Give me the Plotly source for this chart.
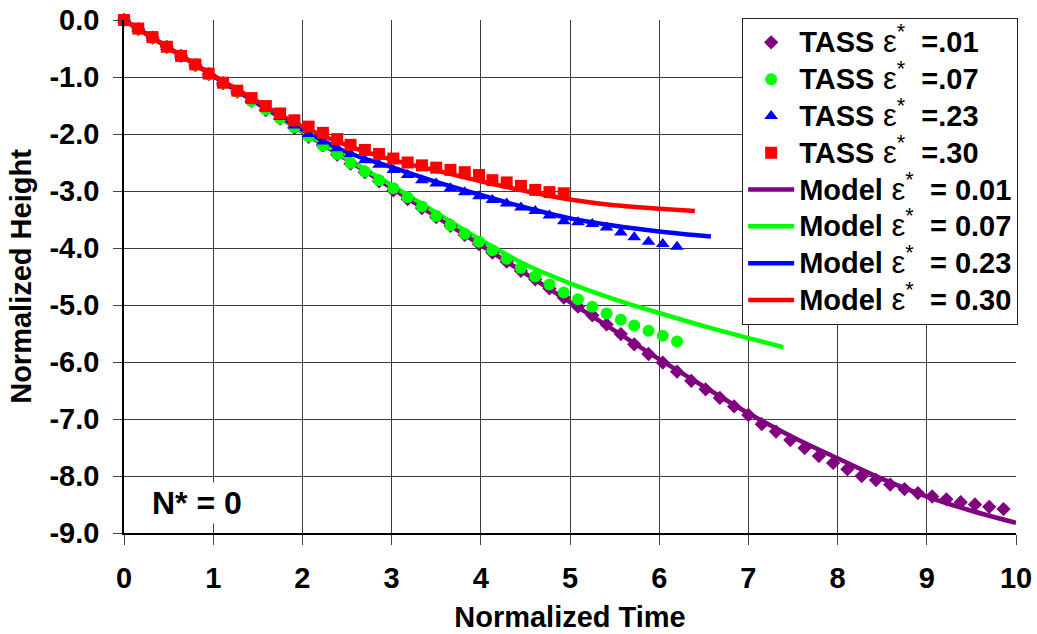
import plotly.graph_objects as go

# Sample times of the TASS simulations (shared by all four runs)
tass_time = [0.00, 0.16, 0.32, 0.48, 0.64, 0.80, 0.95, 1.11, 1.27, 1.43,
             1.59, 1.75, 1.91, 2.07, 2.23, 2.39, 2.54, 2.70, 2.86, 3.02,
             3.18, 3.34, 3.50, 3.66, 3.82, 3.98, 4.13, 4.29, 4.45, 4.61,
             4.77, 4.93, 5.09, 5.25, 5.41, 5.57, 5.72, 5.88, 6.04, 6.20,
             6.36, 6.52, 6.68, 6.84, 7.00, 7.15, 7.31, 7.47, 7.63, 7.79,
             7.95, 8.11, 8.27, 8.43, 8.59, 8.75, 8.90, 9.06, 9.22, 9.38,
             9.54, 9.70, 9.86]

tass_01 = [0.00, -0.16, -0.31, -0.47, -0.63, -0.79, -0.95, -1.11, -1.26, -1.42,
           -1.58, -1.73, -1.89, -2.05, -2.20, -2.36, -2.52, -2.67, -2.83, -2.99,
           -3.14, -3.30, -3.46, -3.61, -3.77, -3.93, -4.08, -4.24, -4.40, -4.55,
           -4.71, -4.87, -5.03, -5.18, -5.34, -5.51, -5.69, -5.86, -6.01, -6.17,
           -6.33, -6.48, -6.63, -6.78, -6.93, -7.09, -7.22, -7.37, -7.51, -7.65,
           -7.77, -7.88, -8.00, -8.07, -8.15, -8.23, -8.30, -8.36, -8.41, -8.46,
           -8.50, -8.54, -8.58]

tass_07 = [0.00, -0.16, -0.31, -0.47, -0.63, -0.79, -0.95, -1.11, -1.26, -1.42,
           -1.57, -1.73, -1.88, -2.04, -2.20, -2.35, -2.51, -2.66, -2.81, -2.95,
           -3.11, -3.27, -3.44, -3.60, -3.75, -3.89, -4.04, -4.19, -4.35, -4.50,
           -4.64, -4.78, -4.90, -5.03, -5.15, -5.26, -5.36, -5.45, -5.54, -5.64]

tass_23 = [0.00, -0.16, -0.31, -0.47, -0.63, -0.79, -0.95, -1.10, -1.25, -1.40,
           -1.55, -1.70, -1.85, -2.00, -2.13, -2.25, -2.35, -2.46, -2.54, -2.63,
           -2.72, -2.81, -2.87, -2.95, -3.02, -3.09, -3.16, -3.22, -3.29, -3.35,
           -3.43, -3.53, -3.55, -3.58, -3.64, -3.73, -3.81, -3.89, -3.93, -3.98]

tass_30 = [0.00, -0.15, -0.30, -0.47, -0.63, -0.78, -0.94, -1.10, -1.24, -1.37,
           -1.51, -1.64, -1.76, -1.87, -1.98, -2.09, -2.19, -2.28, -2.35, -2.43,
           -2.50, -2.55, -2.59, -2.63, -2.67, -2.72, -2.81, -2.85, -2.91, -2.98,
           -3.02, -3.04]

# Model predictions
model_01_t = [0, 0.5, 1, 1.5, 2, 2.5, 3, 3.5, 4, 4.5, 5, 5.5, 6, 6.5, 7, 7.5,
              8, 8.5, 9, 9.5, 10]
model_01_h = [0.00, -0.49, -0.98, -1.47, -1.96, -2.45, -2.95, -3.45, -3.95,
              -4.45, -4.95, -5.45, -5.95, -6.43, -6.90, -7.32, -7.69, -8.05,
              -8.36, -8.61, -8.82]

model_07_t = [0, 0.5, 1, 1.5, 2, 2.5, 3, 3.5, 4, 4.5, 5, 5.5, 6, 6.5, 7, 7.39]
model_07_h = [0.00, -0.49, -0.98, -1.47, -1.95, -2.43, -2.90, -3.38, -3.86,
              -4.29, -4.62, -4.90, -5.14, -5.37, -5.58, -5.74]

model_23_t = [0, 0.5, 1, 1.5, 2, 2.5, 3, 3.5, 4, 4.5, 5, 5.5, 6, 6.58]
model_23_h = [0.00, -0.49, -0.98, -1.46, -1.92, -2.32, -2.58, -2.84, -3.07,
              -3.29, -3.48, -3.61, -3.71, -3.80]

model_30_t = [0, 0.5, 1, 1.5, 2, 2.5, 3, 3.5, 4, 4.5, 5, 5.5, 6, 6.4]
model_30_h = [0.00, -0.49, -0.97, -1.43, -1.87, -2.20, -2.45, -2.64, -2.83,
              -3.00, -3.15, -3.25, -3.31, -3.35]

x_ticks = [0, 1, 2, 3, 4, 5, 6, 7, 8, 9, 10]
y_ticks = [0, -1, -2, -3, -4, -5, -6, -7, -8, -9]
y_tick_text = ["0.0", "-1.0", "-2.0", "-3.0", "-4.0", "-5.0", "-6.0", "-7.0",
               "-8.0", "-9.0"]

PURPLE, GREEN, BLUE, RED = "#800080", "#00FF00", "#0000FF", "#FF0000"


def legend_label(prefix, value):
    # bold label with a regular-weight epsilon-star in the middle
    eps = ("<span style='font-weight:normal;font-size:31px'> ε"
           "<sup>*</sup></span>")
    return f"<span style='font-size:29px'>{prefix}{eps}&nbsp; {value}</span>"


fig = go.Figure()

# model curves underneath the markers
models = [
    (model_01_t, model_01_h, PURPLE, "= 0.01", 5),
    (model_07_t, model_07_h, GREEN, "= 0.07", 6),
    (model_23_t, model_23_h, BLUE, "= 0.23", 7),
    (model_30_t, model_30_h, RED, "= 0.30", 8),
]
for t, h, col, lab, rank in models:
    fig.add_trace(go.Scatter(
        x=t, y=h, mode="lines", line=dict(color=col, width=4.5, shape="spline"),
        name=legend_label("Model", lab), legendrank=rank, cliponaxis=False,
    ))

tass = [
    (tass_time[:len(tass_01)], tass_01, PURPLE, "diamond", 11, "=.01", 1),
    (tass_time[:len(tass_07)], tass_07, GREEN, "circle", 12, "=.07", 2),
    (tass_time[:len(tass_23)], tass_23, BLUE, "triangle-up", 12, "=.23", 3),
    (tass_time[:len(tass_30)], tass_30, RED, "square", 12, "=.30", 4),
]
for t, h, col, sym, size, lab, rank in tass:
    fig.add_trace(go.Scatter(
        x=t, y=h, mode="markers",
        marker=dict(color=col, symbol=sym, size=size, line=dict(width=0)),
        name=legend_label("TASS", lab), legendrank=rank, cliponaxis=False,
    ))

font_family = "Liberation Sans, Arial, sans-serif"

fig.update_layout(
    width=1037, height=634,
    margin=dict(l=124, r=21, t=20, b=101, autoexpand=False),
    paper_bgcolor="white", plot_bgcolor="white",
    font=dict(family=font_family, color="black", size=29, weight="bold"),
    legend=dict(
        x=0.693, y=1.004, xanchor="left", yanchor="top",
        bgcolor="white", bordercolor="#222222", borderwidth=1,
        font=dict(size=26, family=font_family, weight="bold"),
        tracegroupgap=0, itemwidth=46, maxheight=1.0,
    ),
    showlegend=True,
)

fig.update_xaxes(
    range=[0, 10], tickvals=x_ticks, ticks="outside", ticklen=10,
    tickcolor="#444444", tickwidth=1, automargin=False, ticklabelstandoff=8,
    showgrid=True, gridcolor="#3c3c3c", gridwidth=1,
    showline=True, linecolor="black", linewidth=1.5,
    zeroline=False, tickfont=dict(size=29, weight="bold"),
    title=dict(text="Normalized Time", font=dict(size=29, weight="bold"),
               standoff=14),
)
fig.update_yaxes(
    range=[-9, 0], tickvals=y_ticks, ticktext=y_tick_text,
    ticks="outside", ticklen=9, tickcolor="#444444", tickwidth=1,
    automargin=False, ticklabelstandoff=8,
    showgrid=True, gridcolor="#3c3c3c", gridwidth=1,
    showline=True, linecolor="black", linewidth=1.5,
    zeroline=False, tickfont=dict(size=29, weight="bold"),
    title=dict(text="Normalized Height", font=dict(size=29, weight="bold"),
               standoff=9),
)

fig.add_annotation(
    x=0.82, y=-8.47, xref="x", yref="y", text="N* = 0", showarrow=False,
    font=dict(size=32, weight="bold", family=font_family),
    bgcolor="white", borderpad=2,
)

fig.write_html("out.html")
